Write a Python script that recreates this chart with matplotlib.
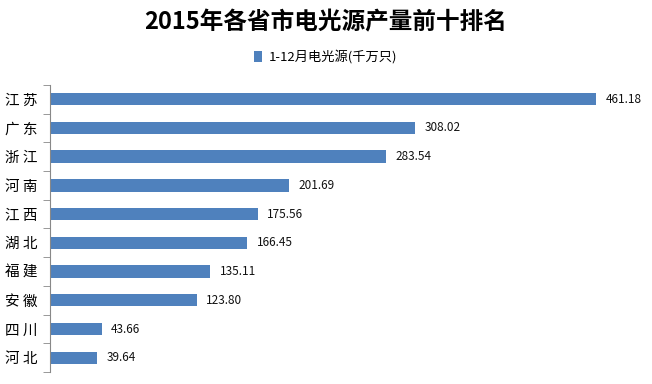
import matplotlib
matplotlib.use("Agg")
import matplotlib.pyplot as plt

plt.rcParams['font.family'] = ['Noto Sans CJK SC', 'DejaVu Sans']

provinces = ['江 苏', '广 东', '浙 江', '河 南', '江 西', '湖 北', '福 建', '安 徽', '四 川', '河 北']
output = [461.18, 308.02, 283.54, 201.69, 175.56, 166.45, 135.11, 123.80, 43.66, 39.64]
labels = ['461.18', '308.02', '283.54', '201.69', '175.56', '166.45', '135.11', '123.80', '43.66', '39.64']

bar_color = '#4F81BD'

fig = plt.figure(figsize=(6.52, 3.84), dpi=100)
ax = fig.add_axes([0.0767, 0.031, 0.908, 0.748])

pos = list(range(len(provinces)))
ax.barh(pos, output, height=0.43, color=bar_color, label='1-12月电光源(千万只)')
for p, v, t in zip(pos, output, labels):
    ax.text(v + 8, p, t, va='center', ha='left', fontsize=8.5, color='#111111')

ax.set_xlim(0, 500)
ax.set_ylim(len(provinces) - 0.5, -0.5)
ax.set_yticks(pos)
ax.set_yticklabels(provinces, fontsize=10.5)
ax.set_yticks([i - 0.5 for i in range(len(provinces) + 1)], minor=True)
ax.tick_params(axis='y', which='major', length=0, pad=9)
ax.tick_params(axis='y', which='minor', length=5, color='#888888')
ax.set_xticks([])
for s in ['top', 'right', 'bottom']:
    ax.spines[s].set_visible(False)
ax.spines['left'].set_color('#888888')

fig.text(0.5, 0.943, '2015年各省市电光源产量前十排名', ha='center', va='center',
         fontsize=17, fontweight='bold')
fig.legend(loc='center', bbox_to_anchor=(0.5, 0.852), frameon=False, fontsize=9.5,
           handlelength=0.6, handleheight=0.9, handletextpad=0.5)

fig.savefig('out.png', dpi=100)
